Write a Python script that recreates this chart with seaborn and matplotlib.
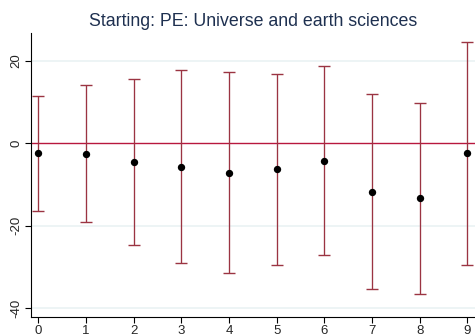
import numpy as np
import pandas as pd
import matplotlib
matplotlib.use("Agg")
import matplotlib.pyplot as plt
import seaborn as sns

# values
steps = [0, 1, 2, 3, 4, 5, 6, 7, 8, 9]
estimate = [-2.4, -2.5, -4.5, -5.7, -7.1, -6.3, -4.2, -11.7, -13.3, -2.4]
ci_upper = [11.6, 14.1, 15.6, 17.8, 17.3, 16.9, 18.8, 12.0, 9.9, 24.7]
ci_lower = [-16.4, -19.2, -24.6, -29.1, -31.6, -29.5, -27.1, -35.3, -36.5, -29.5]
y_ticks = [-40, -20, 0, 20]

df = pd.DataFrame({"step": steps, "est": estimate, "hi": ci_upper, "lo": ci_lower})

sns.set_style("white")
plt.rcParams['font.family'] = ['Liberation Sans', 'DejaVu Sans']

fig = plt.figure(figsize=(4.75, 3.36), dpi=100)
ax = fig.add_axes([0.065, 0.0575, 0.935, 0.844])

for t in [-40, -20, 20]:
    ax.axhline(t, color="#eaf2f3", lw=1.2, zorder=0)
ax.axhline(0, color="#b8183e", lw=1.0, zorder=1)

ax.errorbar(df["step"], df["est"],
            yerr=[df["est"] - df["lo"], df["hi"] - df["est"]],
            fmt="none", ecolor="#9b3442", elinewidth=0.95, capsize=4.3,
            capthick=1.0, zorder=2)
sns.scatterplot(data=df, x="step", y="est", color="black", s=28,
                edgecolor="black", linewidth=0, zorder=3, ax=ax)

ax.set_xlim(-0.16, 9.16)
ax.set_ylim(-42.1, 26.8)
ax.set_xticks(steps)
ax.set_yticks(y_ticks)
ax.set_yticklabels([str(v) for v in y_ticks], rotation=90, va="center")
ax.tick_params(axis="both", labelsize=9.5, length=4, width=0.8, color="black",
               direction="out", pad=2, left=True, bottom=True)
ax.set_xlabel("")
ax.set_ylabel("")
for side in ["top", "right"]:
    ax.spines[side].set_visible(False)
for side in ["left", "bottom"]:
    ax.spines[side].set_color("black")
    ax.spines[side].set_linewidth(0.8)

ax.set_title("Starting: PE: Universe and earth sciences", fontsize=12.8,
             color="#1e3050", pad=5)

fig.savefig("out.png", dpi=100)
